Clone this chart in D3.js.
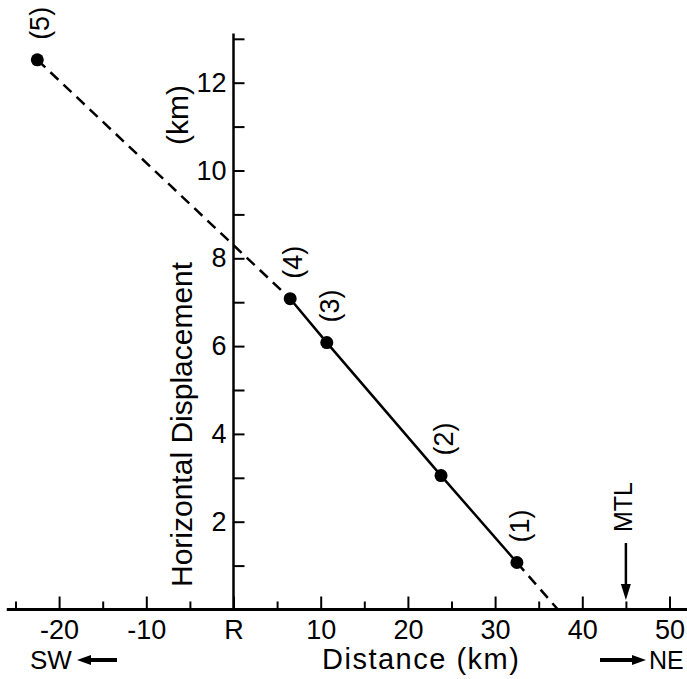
<!DOCTYPE html>
<html>
<head>
<meta charset="utf-8">
<script src="https://cdn.jsdelivr.net/npm/d3@7"></script>
<style>
  body { margin: 0; background: #fff; }
  text { font-family: "Liberation Sans", Arial, sans-serif; fill: #000; }
</style>
</head>
<body>
<script>
const sites = ["(1)", "(2)", "(3)", "(4)", "(5)"];
const distance = [32.5, 23.8, 10.7, 6.5, -22.5];      // km
const displacement = [1.07, 3.05, 6.08, 7.08, 12.52]; // km
const zeroCrossing = 37.2; // where the fitted line meets the axis
const mtlDistance = 45;

const xMajor = [-20, -10, 0, 10, 20, 30, 40, 50];
const xTickLabels = ["-20", "-10", "R", "10", "20", "30", "40", "50"];
const xMinor = [-25, -15, -5, 5, 15, 25, 35, 45];
const yMajor = [2, 4, 6, 8, 10, 12];
const yMinor = [1, 3, 5, 7, 9, 11, 13];

const width = 687;
const height = 679;

const svg = d3.select("body").append("svg")
  .attr("width", width)
  .attr("height", height);

const x = d3.scaleLinear().domain([-25, 50]).range([15.5, 669.5]);
const y = d3.scaleLinear().domain([0, 13]).range([609.5, 38.8]);

// x axis: minor then major ticks
svg.append("g")
  .attr("transform", `translate(0, ${y(0)})`)
  .call(d3.axisBottom(x).tickValues(xMinor).tickSizeInner(-8).tickSizeOuter(0).tickFormat(""))
  .call(g => g.select(".domain").remove());

const xAxis = svg.append("g")
  .attr("transform", `translate(0, ${y(0)})`)
  .call(d3.axisBottom(x).tickValues(xMajor).tickSizeInner(-13).tickSizeOuter(0)
    .tickPadding(10).tickFormat((d, i) => xTickLabels[i]))
  .call(g => g.select(".domain").remove());
xAxis.selectAll("text").style("font-size", "27px").attr("font-family", null);

svg.append("line")
  .attr("x1", x(-26)).attr("x2", width)
  .attr("y1", y(0)).attr("y2", y(0))
  .attr("stroke", "#000").attr("stroke-width", 3);

// y axis, ticks on the inside
svg.append("g")
  .attr("transform", `translate(${x(0)}, 0)`)
  .call(d3.axisLeft(y).tickValues(yMinor).tickSizeInner(-11).tickSizeOuter(0).tickFormat(""))
  .call(g => g.select(".domain").remove());

const yAxis = svg.append("g")
  .attr("transform", `translate(${x(0)}, 0)`)
  .call(d3.axisLeft(y).tickValues(yMajor).tickSizeInner(-11).tickSizeOuter(0).tickPadding(7))
  .call(g => g.select(".domain").remove());
yAxis.selectAll("text").style("font-size", "27px").attr("font-family", null);

svg.selectAll(".tick line").attr("stroke-width", 2);

svg.append("line")
  .attr("x1", x(0)).attr("x2", x(0))
  .attr("y1", y(0)).attr("y2", y(13.12))
  .attr("stroke", "#000").attr("stroke-width", 2.5);

// the fitted line
const pts = distance.map((d, i) => ({ x: d, y: displacement[i], label: sites[i] }));
const line = d3.line().x(d => x(d.x)).y(d => y(d.y));

const byName = Object.fromEntries(pts.map(p => [p.label, p]));
const solid = ["(4)", "(3)", "(2)", "(1)"].map(k => byName[k]);
const dashed = [
  [byName["(5)"], byName["(4)"]],
  [byName["(1)"], { x: zeroCrossing, y: 0 }]
];

svg.append("path")
  .datum(solid)
  .attr("fill", "none")
  .attr("stroke", "#000")
  .attr("stroke-width", 2.5)
  .attr("d", line);

svg.selectAll(".dash")
  .data(dashed)
  .enter()
  .append("path")
  .attr("fill", "none")
  .attr("stroke", "#000")
  .attr("stroke-width", 2.5)
  .attr("stroke-dasharray", "11 7")
  .attr("d", line);

svg.selectAll(".pt")
  .data(pts)
  .enter()
  .append("circle")
  .attr("cx", d => x(d.x))
  .attr("cy", d => y(d.y))
  .attr("r", 6.5)
  .attr("fill", "#000");

svg.selectAll(".site")
  .data(pts)
  .enter()
  .append("text")
  .attr("transform", d => `translate(${x(d.x) + 3}, ${y(d.y) - 20}) rotate(-90)`)
  .attr("dominant-baseline", "central")
  .style("font-size", "27px")
  .text(d => d.label);

// axis titles
svg.append("text")
  .attr("transform", "translate(192, 587) rotate(-90)")
  .style("font-size", "30px")
  .text("Horizontal Displacement");

svg.append("text")
  .attr("transform", "translate(188, 145) rotate(-90)")
  .style("font-size", "30px")
  .text("(km)");

svg.append("text")
  .attr("x", 322).attr("y", 669)
  .style("font-size", "29px")
  .style("letter-spacing", "1.5px")
  .text("Distance (km)");

// direction labels with arrows
function arrow(x1, y1, x2, y2, w, head, headW) {
  const ang = Math.atan2(y2 - y1, x2 - x1);
  const bx = x2 - head * Math.cos(ang), by = y2 - head * Math.sin(ang);
  svg.append("line")
    .attr("x1", x1).attr("y1", y1).attr("x2", bx).attr("y2", by)
    .attr("stroke", "#000").attr("stroke-width", w);
  const nx = -Math.sin(ang) * headW / 2, ny = Math.cos(ang) * headW / 2;
  svg.append("path")
    .attr("d", `M${x2},${y2}L${bx + nx},${by + ny}L${bx - nx},${by - ny}Z`)
    .attr("fill", "#000");
}

svg.append("text").attr("x", 30).attr("y", 669).style("font-size", "26px").text("SW");
arrow(117, 660, 77, 660, 4, 14, 10);

svg.append("text").attr("x", 649).attr("y", 669).style("font-size", "25px").text("NE");
arrow(600, 660, 646, 660, 4, 14, 10);

svg.append("text")
  .attr("transform", `translate(${x(mtlDistance) + 6}, 532) rotate(-90)`)
  .style("font-size", "25px")
  .text("MTL");
arrow(x(mtlDistance), 543, x(mtlDistance), 600, 2.5, 16, 10);
</script>
</body>
</html>
